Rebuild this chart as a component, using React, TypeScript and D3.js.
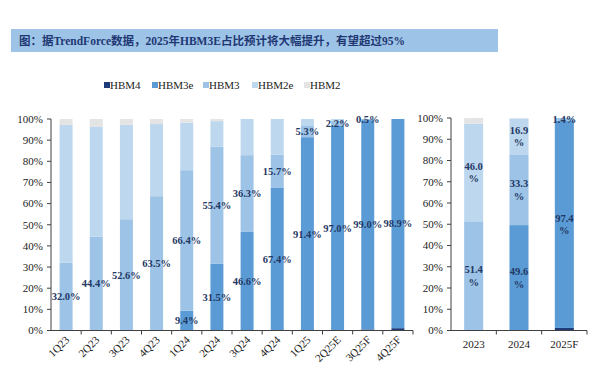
import React from 'react';
import * as d3 from 'd3';

const title = '图：据TrendForce数据，2025年HBM3E占比预计将大幅提升，有望超过95%';
const seriesKeys = ['HBM4', 'HBM3e', 'HBM3', 'HBM2e', 'HBM2'];
const seriesColors = ['#1F3C7A', '#5B9BD5', '#9DC3E6', '#BDD7EE', '#E4E4E4'];

const quarters = ['1Q23', '2Q23', '3Q23', '4Q23', '1Q24', '2Q24', '3Q24', '4Q24', '1Q25', '2Q25E', '3Q25F', '4Q25F'];
const qHBM4 = [0, 0, 0, 0, 0, 0, 0, 0, 0, 0, 0.5, 1.1];
const qHBM3e = [0, 0, 0, 0, 9.4, 31.5, 46.6, 67.4, 91.4, 97.0, 99.0, 98.9];
const qHBM3 = [32.0, 44.4, 52.6, 63.5, 66.4, 55.4, 36.3, 15.7, 5.3, 2.2, 0.5, 0];
const qHBM2e = [65.2, 52.0, 44.6, 34.1, 22.4, 12.1, 17.1, 16.9, 3.3, 0.8, 0, 0];
const qHBM2 = [2.8, 3.6, 2.8, 2.4, 1.8, 1.0, 0, 0, 0, 0, 0, 0];

const years = ['2023', '2024', '2025F'];
const yHBM4 = [0, 0, 1.2];
const yHBM3e = [0, 49.6, 97.4];
const yHBM3 = [51.4, 33.3, 1.4];
const yHBM2e = [46.0, 16.9, 0];
const yHBM2 = [2.6, 0.2, 0];

const yTicks = [0, 10, 20, 30, 40, 50, 60, 70, 80, 90, 100];

const qLabelKeys = ['HBM3e', 'HBM3'];
const yLabelKeys = ['HBM3e', 'HBM3', 'HBM2e'];

type Row = { [k: string]: any };

function buildRows(cats: string[], arrs: number[][]): Row[] {
  return cats.map((c, i) => {
    const r: Row = { cat: c };
    seriesKeys.forEach((k, j) => (r[k] = arrs[j][i]));
    return r;
  });
}

const SERIF = '"Liberation Serif", "Times New Roman", serif';
const LABEL_COLOR = '#1F3864';
const AXIS_COLOR = '#404040';

function Panel(props: {
  rows: Row[];
  cats: string[];
  x0: number;
  x1: number;
  yTop: number;
  yBot: number;
  barFrac: number;
  rotateLabels: boolean;
  labelKeys: string[];
  wrapLabels: boolean;
}) {
  const { rows, cats, x0, x1, yTop, yBot, barFrac, rotateLabels, labelKeys, wrapLabels } = props;
  const x = d3.scaleBand<string>().domain(cats).range([x0, x1]).paddingInner(0).paddingOuter(0);
  const y = d3.scaleLinear().domain([0, 100]).range([yBot, yTop]);
  const stack = d3.stack<Row>().keys(seriesKeys);
  const layers = stack(rows);
  const bw = x.bandwidth() * barFrac;
  const fmt = d3.format('.1f');

  return (
    <g>
      {layers.map((layer, li) => (
        <g key={layer.key}>
          {layer.map((d, i) => {
            const h = y(d[0]) - y(d[1]);
            if (h <= 0) return null;
            const cx = (x(cats[i]) as number) + x.bandwidth() / 2;
            return (
              <rect
                key={i}
                x={cx - bw / 2}
                y={y(d[1])}
                width={bw}
                height={h}
                fill={seriesColors[li]}
              />
            );
          })}
        </g>
      ))}
      {/* y axis */}
      <line x1={x0} x2={x0} y1={yTop} y2={yBot} stroke={AXIS_COLOR} strokeWidth={1} />
      {yTicks.map((t) => (
        <g key={t}>
          <line x1={x0 - 4} x2={x0} y1={y(t)} y2={y(t)} stroke={AXIS_COLOR} strokeWidth={1} />
          <text
            x={x0 - 8}
            y={y(t)}
            dy="0.35em"
            textAnchor="end"
            fontFamily={SERIF}
            fontSize={11}
            fill="#222"
          >
            {t + '%'}
          </text>
        </g>
      ))}
      {/* x axis */}
      <line x1={x0} x2={x1} y1={yBot} y2={yBot} stroke={AXIS_COLOR} strokeWidth={1} />
      {cats.map((c, i) => (
        <line
          key={'t' + i}
          x1={(x(c) as number) + x.bandwidth()}
          x2={(x(c) as number) + x.bandwidth()}
          y1={yBot}
          y2={yBot + 4}
          stroke={AXIS_COLOR}
          strokeWidth={1}
        />
      ))}
      {cats.map((c, i) => {
        const cx = (x(c) as number) + x.bandwidth() / 2;
        return rotateLabels ? (
          <text
            key={'l' + i}
            transform={`translate(${cx + 4},${yBot + 10}) rotate(-45)`}
            textAnchor="end"
            fontFamily={SERIF}
            fontSize={11}
            fill="#222"
          >
            {c}
          </text>
        ) : (
          <text
            key={'l' + i}
            x={cx}
            y={yBot + 17}
            textAnchor="middle"
            fontFamily={SERIF}
            fontSize={11}
            fill="#222"
          >
            {c}
          </text>
        );
      })}
      {/* data labels */}
      {layers.map((layer) =>
        labelKeys.includes(layer.key)
          ? layer.map((d, i) => {
              const v = (rows[i] as Row)[layer.key] as number;
              if (!v) return null;
              const cx = (x(cats[i]) as number) + x.bandwidth() / 2;
              const cy = y((d[0] + d[1]) / 2);
              const txt = fmt(v);
              if (wrapLabels && v >= 10) {
                return (
                  <text
                    key={layer.key + i}
                    x={cx}
                    y={cy}
                    textAnchor="middle"
                    fontFamily={SERIF}
                    fontWeight="bold"
                    fontSize={10.5}
                    fill={LABEL_COLOR}
                  >
                    <tspan x={cx} dy="-0.25em">{txt}</tspan>
                    <tspan x={cx} dy="1.2em">%</tspan>
                  </text>
                );
              }
              return (
                <text
                  key={layer.key + i}
                  x={cx}
                  y={cy}
                  dy="0.35em"
                  textAnchor="middle"
                  fontFamily={SERIF}
                  fontWeight="bold"
                  fontSize={10.5}
                  fill={LABEL_COLOR}
                >
                  {txt + '%'}
                </text>
              );
            })
          : null
      )}
    </g>
  );
}

export default function App() {
  const qRows = buildRows(quarters, [qHBM4, qHBM3e, qHBM3, qHBM2e, qHBM2]);
  const yRows = buildRows(years, [yHBM4, yHBM3e, yHBM3, yHBM2e, yHBM2]);
  const legendX = [104, 152, 203, 252, 304];

  return (
    <svg
      width={614}
      height={387}
      style={{ position: 'absolute', left: 0, top: 0, background: '#fff' }}
    >
      <rect x={0} y={0} width={614} height={387} fill="#fff" />
      <rect x={11} y={29} width={487} height={23} fill="#9DC3E6" />
      <text
        x={19}
        y={45}
        fontFamily={'"Liberation Serif", "Noto Sans CJK SC", serif'}
        fontWeight="bold"
        fontSize={11.5}
        fill="#1F3874"
      >
        {title}
      </text>
      {/* legend */}
      {seriesKeys.map((k, i) => (
        <g key={k}>
          <rect x={legendX[i]} y={82} width={6} height={6} fill={seriesColors[i]} />
          <text x={legendX[i] + 6} y={89} fontFamily={SERIF} fontSize={11} fill="#222">
            {k}
          </text>
        </g>
      ))}
      <Panel
        rows={qRows}
        cats={quarters}
        x0={51}
        x1={413}
        yTop={119}
        yBot={330.5}
        barFrac={0.43}
        rotateLabels={true}
        labelKeys={qLabelKeys}
        wrapLabels={false}
      />
      <Panel
        rows={yRows}
        cats={years}
        x0={451}
        x1={587}
        yTop={118}
        yBot={330.5}
        barFrac={0.42}
        rotateLabels={false}
        labelKeys={yLabelKeys}
        wrapLabels={true}
      />
    </svg>
  );
}
